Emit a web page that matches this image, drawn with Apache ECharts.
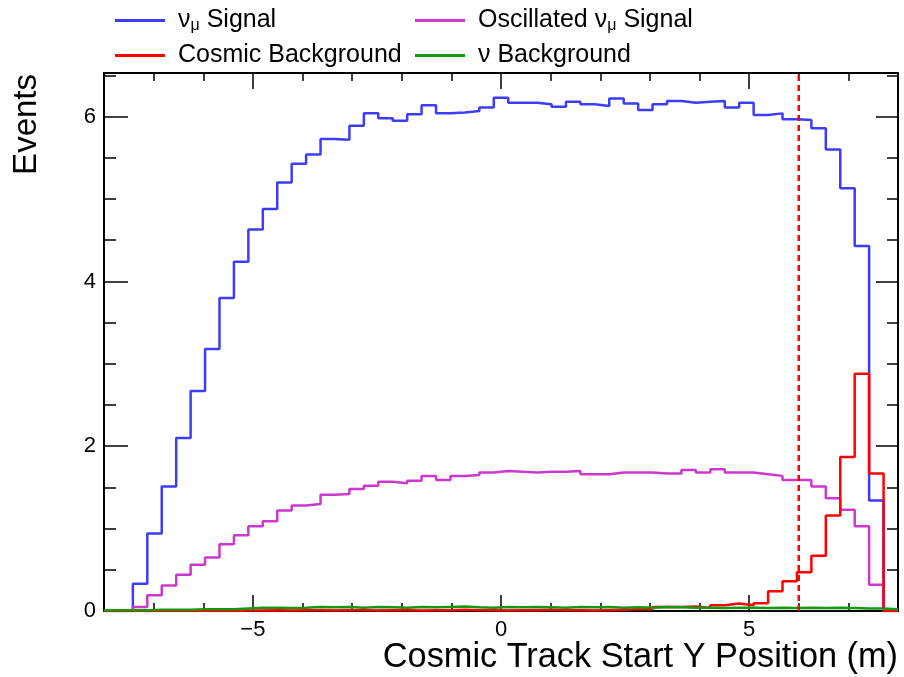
<!DOCTYPE html>
<html>
<head>
<meta charset="utf-8">
<script src="https://cdn.jsdelivr.net/npm/echarts@6/dist/echarts.min.js"></script>
<style>
  html, body { margin: 0; padding: 0; background: #fff; }
  #main { width: 904px; height: 677px; }
</style>
</head>
<body>
<div id="main"></div>
<script>
// histogram binning (55 bins from -8 to 8 m)
const xLow = -8;
const xHigh = 8;
const nBins = 55;
const yMax = 6.53;
const cutX = 6;

const seriesNames = ['νμ Signal', 'Oscillated νμ Signal', 'Cosmic Background', 'ν Background'];

const numuSignal = [
  0, 0, 0.33, 0.94, 1.51, 2.10, 2.67, 3.18, 3.80, 4.24,
  4.63, 4.88, 5.20, 5.43, 5.54, 5.73, 5.72, 5.89, 6.04, 5.98,
  5.95, 6.03, 6.14, 6.04, 6.05, 6.07, 6.11, 6.23, 6.17, 6.17,
  6.15, 6.12, 6.18, 6.15, 6.13, 6.22, 6.16, 6.08, 6.15, 6.19,
  6.17, 6.18, 6.19, 6.11, 6.17, 6.02, 6.04, 5.97, 5.96, 5.86,
  5.60, 5.13, 4.43, 1.34, 0
];
const oscSignal = [
  0, 0, 0.05, 0.19, 0.31, 0.44, 0.56, 0.65, 0.81, 0.92,
  1.03, 1.09, 1.22, 1.28, 1.30, 1.41, 1.42, 1.48, 1.52, 1.57,
  1.55, 1.58, 1.64, 1.59, 1.64, 1.65, 1.68, 1.70, 1.69, 1.68,
  1.69, 1.69, 1.70, 1.66, 1.66, 1.68, 1.68, 1.68, 1.67, 1.67,
  1.71, 1.68, 1.72, 1.68, 1.68, 1.66, 1.64, 1.59, 1.59, 1.51,
  1.37, 1.23, 1.03, 0.32, 0
];
const cosmicBkg = [
  0, 0, 0, 0, 0, 0, 0, 0, 0, 0.005,
  0.005, 0.01, 0.005, 0.01, 0.01, 0.005, 0.01, 0.01, 0.005, 0.01,
  0.01, 0.005, 0.01, 0.01, 0.015, 0.01, 0.01, 0.005, 0.01, 0.01,
  0.015, 0.01, 0.01, 0.005, 0.01, 0.015, 0.02, 0.02, 0.05, 0.05,
  0.055, 0.035, 0.07, 0.09, 0.07, 0.095, 0.24, 0.36, 0.47, 0.67,
  1.16, 1.87, 2.88, 1.67, 0
];
const nuBkg = [
  0.01, 0.01, 0.01, 0.015, 0.015, 0.015, 0.02, 0.02, 0.02, 0.03,
  0.04, 0.04, 0.035, 0.04, 0.05, 0.045, 0.05, 0.04, 0.05, 0.045,
  0.04, 0.05, 0.045, 0.05, 0.055, 0.045, 0.04, 0.05, 0.045, 0.05,
  0.045, 0.04, 0.05, 0.045, 0.05, 0.04, 0.045, 0.04, 0.05, 0.045,
  0.04, 0.04, 0.035, 0.04, 0.04, 0.035, 0.04, 0.035, 0.04, 0.035,
  0.04, 0.035, 0.03, 0.03, 0.02
];

const xMajorTicks = [-5, 0, 5];
const xMinorTicks = [-8, -7, -6, -5, -4, -3, -2, -1, 0, 1, 2, 3, 4, 5, 6, 7, 8];
const yMajorTicks = [0, 2, 4, 6];
const yMinorTicks = [0, 0.5, 1, 1.5, 2, 2.5, 3, 3.5, 4, 4.5, 5, 5.5, 6, 6.5];

const colors = ['#3c3cfa', '#cc38cc', '#ff0000', '#119a11'];
const font = 'Liberation Sans, Arial, Helvetica, sans-serif';

function histPoints(values) {
  const w = (xHigh - xLow) / nBins;
  const pts = values.map((v, i) => [xLow + i * w, v]);
  pts.push([xHigh, values[values.length - 1]]);
  return pts;
}

function xAxisDef(pos, ticks, len, showLine, labels) {
  return {
    type: 'value', position: pos, min: xLow, max: xHigh,
    axisLine: { show: showLine, onZero: false, lineStyle: { color: '#000', width: 2 } },
    axisTick: { show: true, inside: true, length: len, customValues: ticks, lineStyle: { color: '#000', width: 1.5 } },
    axisLabel: labels ? {
      show: true, customValues: xMajorTicks, fontSize: 22, margin: 8, color: '#000', fontFamily: font,
      formatter: v => (v < 0 ? '\u2212' + Math.abs(v) : String(v))
    } : { show: false },
    splitLine: { show: false }
  };
}

function yAxisDef(pos, ticks, len, showLine, labels) {
  return {
    type: 'value', position: pos, min: 0, max: yMax,
    axisLine: { show: showLine, onZero: false, lineStyle: { color: '#000', width: 2 } },
    axisTick: { show: true, inside: true, length: len, customValues: ticks, lineStyle: { color: '#000', width: 1.5 } },
    axisLabel: labels ? {
      show: true, customValues: yMajorTicks, fontSize: 22, margin: 8, color: '#000', fontFamily: font
    } : { show: false },
    splitLine: { show: false }
  };
}

function legendDef(name, left, top) {
  return {
    data: [name], left: left, top: top, icon: 'rect', itemWidth: 50, itemHeight: 3,
    selectedMode: false, padding: 0,
    textStyle: {
      fontSize: 25, color: '#000', fontFamily: font, padding: [0, 0, 0, 8],
      rich: { n: { fontSize: 25, fontFamily: font }, s: { fontSize: 16, fontFamily: font, padding: [11, 0, 0, 0] } }
    },
    formatter: nm => nm.replace('νμ', '{n|ν}{s|μ}')
  };
}

const chart = echarts.init(document.getElementById('main'));
const lineSeries = [numuSignal, oscSignal, cosmicBkg, nuBkg].map((vals, i) => ({
  name: seriesNames[i],
  type: 'line',
  step: 'end',
  data: histPoints(vals),
  symbol: 'none',
  showSymbol: false,
  z: 2 + i,
  lineStyle: { color: colors[i], width: 2.5 },
  itemStyle: { color: colors[i] }
}));

lineSeries.push({
  name: 'cut',
  type: 'line',
  data: [[cutX, 0], [cutX, yMax]],
  symbol: 'none',
  z: 7,
  lineStyle: { color: '#ff0000', width: 2.5, type: [6, 4] }
});

chart.setOption({
  animation: false,
  backgroundColor: '#fff',
  grid: { left: 104, right: 6, top: 73, bottom: 66, containLabel: false, outerBoundsMode: 'none' },
  legend: [
    legendDef(seriesNames[0], 115, 8),
    legendDef(seriesNames[1], 415, 8),
    legendDef(seriesNames[2], 115, 43),
    legendDef(seriesNames[3], 415, 43)
  ],
  xAxis: [
    xAxisDef('bottom', xMajorTicks, 16, true, true),
    xAxisDef('bottom', xMinorTicks, 8, false, false),
    xAxisDef('top', xMajorTicks, 16, true, false),
    xAxisDef('top', xMinorTicks, 8, false, false)
  ],
  yAxis: [
    yAxisDef('left', yMajorTicks, 24, true, true),
    yAxisDef('left', yMinorTicks, 12, false, false),
    yAxisDef('right', yMajorTicks, 22, true, false),
    yAxisDef('right', yMinorTicks, 11, false, false)
  ],
  graphic: [
    {
      type: 'text', x: 27, y: 74, rotation: Math.PI / 2,
      style: { text: 'Events', fontSize: 33, fontFamily: font, fill: '#000', align: 'right', verticalAlign: 'middle' }
    },
    {
      type: 'text', x: 898, y: 658,
      style: { text: 'Cosmic Track Start Y Position (m)', fontSize: 34.3, fontFamily: font, fill: '#000', align: 'right', verticalAlign: 'middle' }
    }
  ],
  series: lineSeries
});
</script>
</body>
</html>
